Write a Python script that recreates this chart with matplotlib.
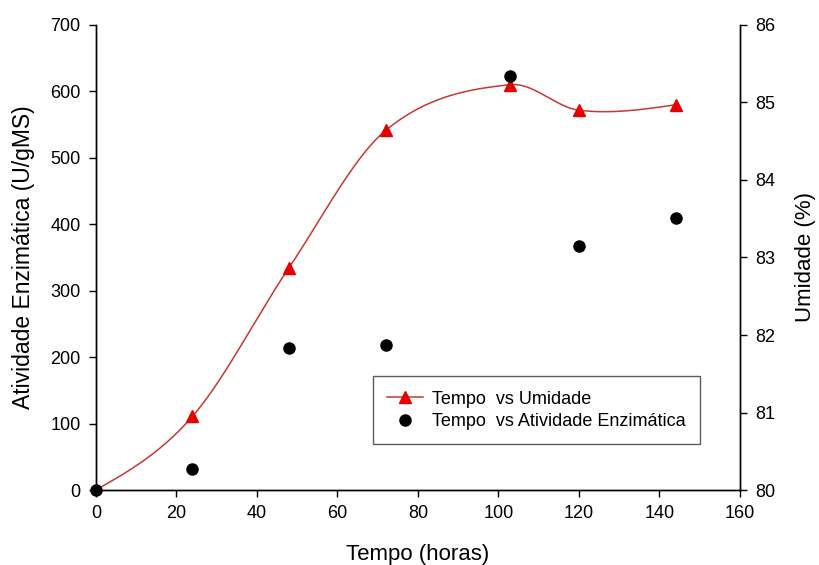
import numpy as np
import matplotlib.pyplot as plt
from matplotlib.lines import Line2D

plt.rcParams['font.family'] = ['Liberation Sans', 'DejaVu Sans']

tempo = [0, 24, 48, 72, 103, 120, 144]
atividade = [0, 32, 214, 219, 623, 367, 410]
umidade = [80.0, 80.95, 82.87, 84.64, 85.23, 84.90, 84.97]


def smooth_curve(x, y, n=60):
    # cardinal (catmull-rom like) hermite curve through the points
    x = np.asarray(x, float)
    y = np.asarray(y, float)
    m = np.zeros_like(y)
    m[1:-1] = (y[2:] - y[:-2]) / (x[2:] - x[:-2])
    m[0] = (3 * (y[1] - y[0]) / (x[1] - x[0]) - m[1]) / 2
    m[-1] = (3 * (y[-1] - y[-2]) / (x[-1] - x[-2]) - m[-2]) / 2
    xs_all, ys_all = [], []
    for i in range(len(x) - 1):
        h = x[i + 1] - x[i]
        t = np.linspace(0, 1, n)
        h00 = 2 * t ** 3 - 3 * t ** 2 + 1
        h10 = t ** 3 - 2 * t ** 2 + t
        h01 = -2 * t ** 3 + 3 * t ** 2
        h11 = t ** 3 - t ** 2
        xs_all.append(x[i] + t * h)
        ys_all.append(h00 * y[i] + h10 * h * m[i] + h01 * y[i + 1] + h11 * h * m[i + 1])
    return np.concatenate(xs_all), np.concatenate(ys_all)


fig = plt.figure(figsize=(8.19, 5.65), dpi=100)
ax = fig.add_axes([0.117, 0.1327, 0.7865, 0.8231])
ax2 = ax.twinx()

cx, cy = smooth_curve(tempo, umidade)
ax2.plot(cx, cy, color='#c43a32', lw=1.1, zorder=2)
ax2.plot(tempo, umidade, linestyle='none', marker='^', markersize=9,
         color='#e60000', zorder=3)
ax.plot(tempo, atividade, linestyle='none', marker='o', markersize=8,
        color='black', zorder=5, clip_on=False)

ax.set_zorder(ax2.get_zorder() + 1)
ax.patch.set_visible(False)

ax.set_xlim(0, 160)
ax.set_ylim(0, 700)
ax2.set_ylim(80, 86)
ax.set_xticks(range(0, 161, 20))
ax.set_yticks(range(0, 701, 100))
ax2.set_yticks(range(80, 87))

for a in (ax, ax2):
    a.spines['top'].set_visible(False)
    for s in a.spines.values():
        s.set_linewidth(1.0)
    a.tick_params(direction='out', length=5, width=1, labelsize=13, pad=6)

ax.set_xlabel('Tempo (horas)', fontsize=16)
ax.set_ylabel('Atividade Enzimática (U/gMS)', fontsize=16.5)
ax2.set_ylabel('Umidade (%)', fontsize=16)
ax.xaxis.set_label_coords(0.5, -0.116)
ax.yaxis.set_label_coords(-0.095, 0.5)
ax2.yaxis.set_label_coords(1.085, 0.5)

handles = [
    Line2D([], [], color='#c43a32', lw=1.1, marker='^', markersize=9,
           markerfacecolor='#e60000', markeredgecolor='#e60000'),
    Line2D([], [], linestyle='none', marker='o', markersize=8, color='black'),
]
leg = ax.legend(handles, ['Tempo  vs Umidade', 'Tempo  vs Atividade Enzimática'],
                loc='upper left', bbox_to_anchor=(0.43, 0.245), borderaxespad=0,
                fontsize=13, frameon=True, fancybox=False, handlelength=2.0,
                labelspacing=0.3, borderpad=0.8, handletextpad=0.5)
leg.get_frame().set_edgecolor('#333333')
leg.get_frame().set_linewidth(1.0)

fig.savefig('out.png', dpi=100)
